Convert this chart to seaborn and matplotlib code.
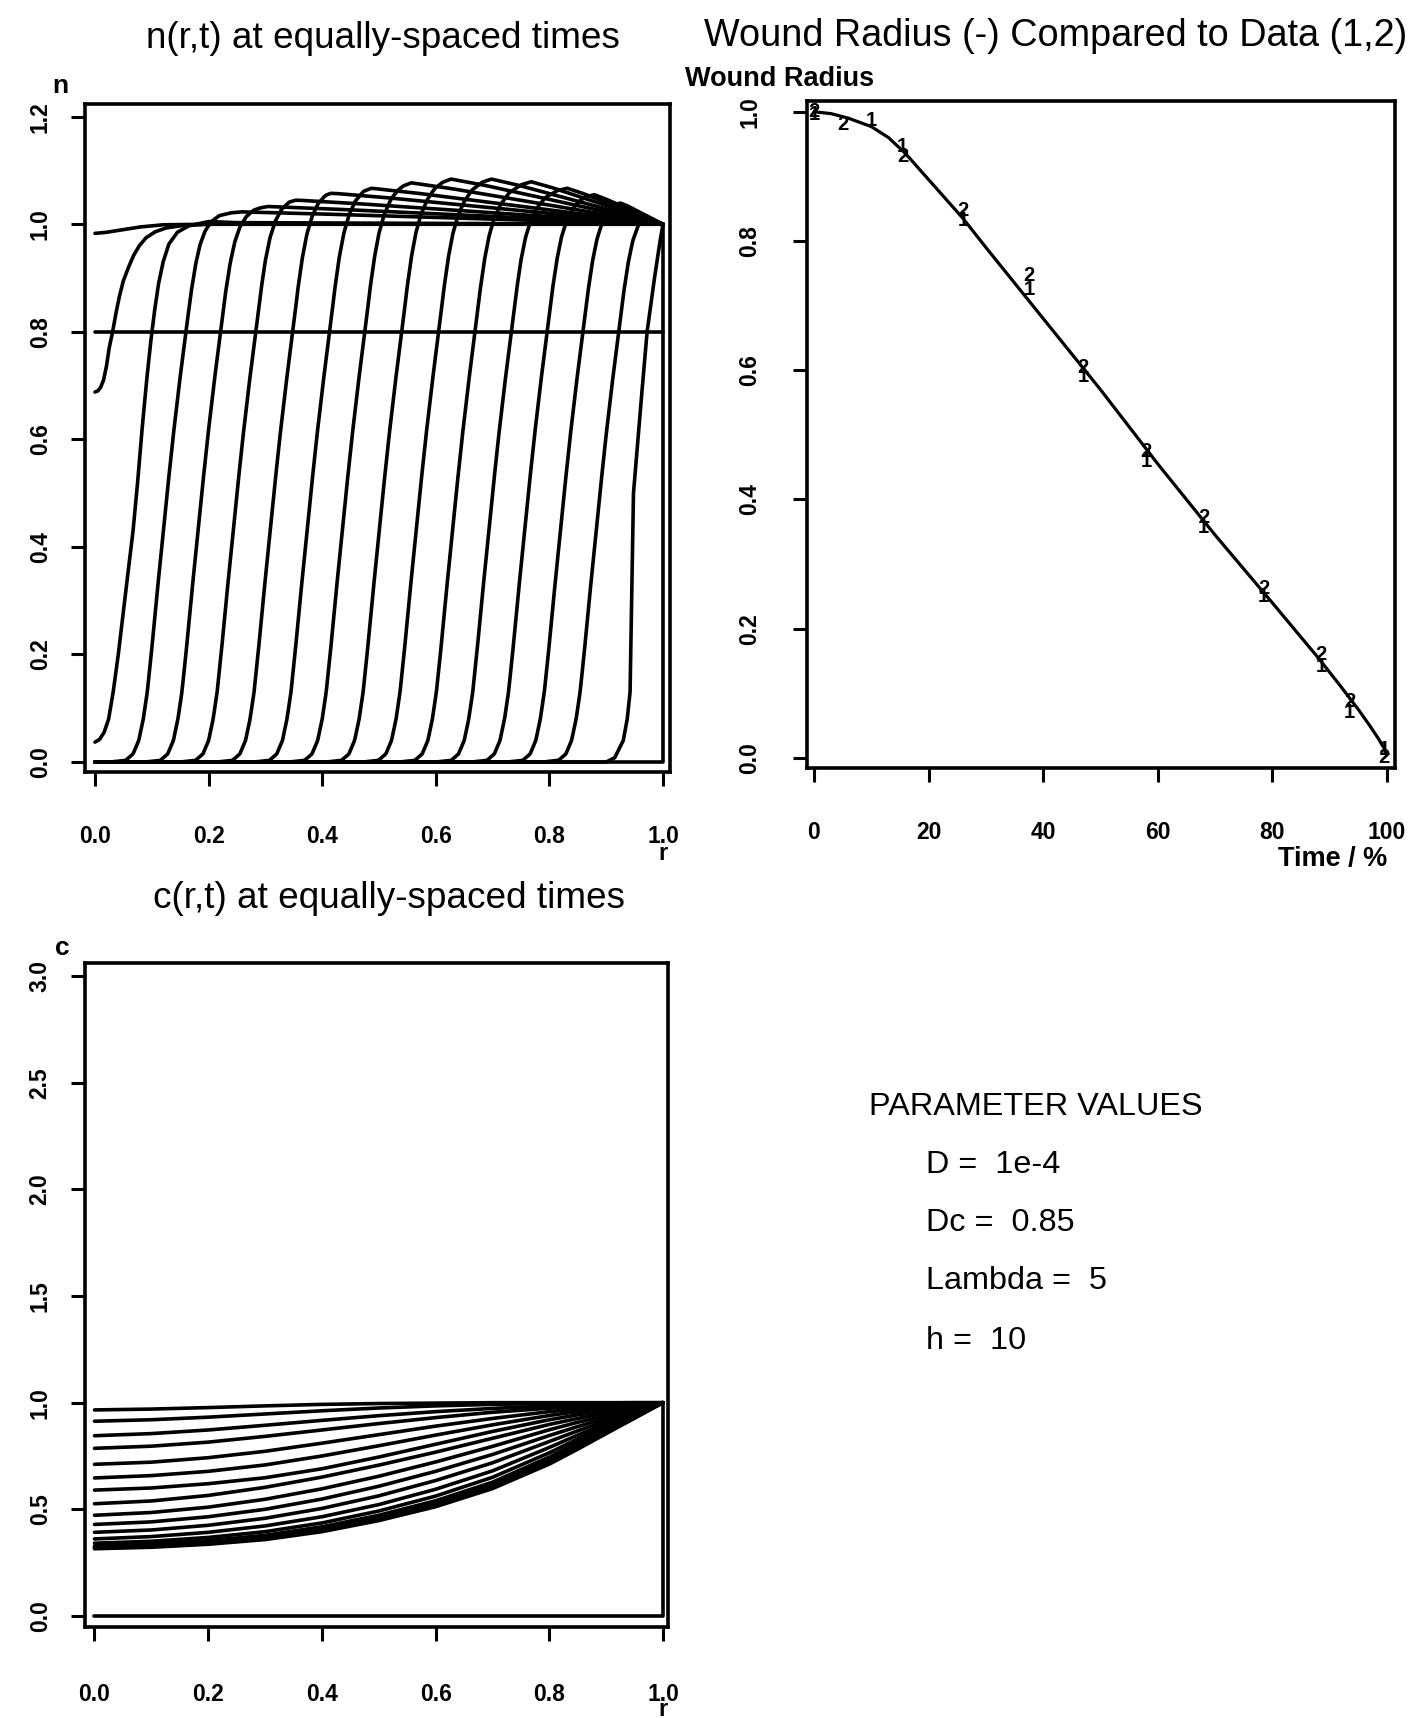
import numpy as np
import pandas as pd
import matplotlib
matplotlib.use("Agg")
import matplotlib.pyplot as plt
import seaborn as sns

# ---------------- data ----------------
# n(r,t): positions (n = 0.5 crossing) of the moving fronts
front_mid = [0.127, 0.188, 0.25, 0.315, 0.38, 0.442, 0.507, 0.572, 0.636, 0.70, 0.763, 0.826, 0.889]
hump_peak_r = [0.258, 0.305, 0.353, 0.415, 0.486, 0.557, 0.627, 0.698, 0.768, 0.831, 0.879, 0.925, 0.962]
hump_peak_n = [1.023, 1.033, 1.045, 1.058, 1.067, 1.077, 1.084, 1.084, 1.079, 1.067, 1.055, 1.04, 1.02]
# front profile (offset from the 0.5 crossing -> n)
front_off = [-0.10, -0.073, -0.06, -0.05, -0.042, -0.035, -0.028, -0.019, -0.0095, 0.0,
             0.01, 0.021, 0.033, 0.042, 0.05, 0.058, 0.067, 0.078, 0.092, 0.11]
front_val = [0.0, 0.003, 0.015, 0.04, 0.08, 0.13, 0.2, 0.3, 0.4, 0.5,
             0.6, 0.7, 0.8, 0.87, 0.92, 0.955, 0.978, 0.992, 0.999, 1.0]
# overshoot hump shape (fraction of rise / fall -> fraction of height)
hump_rise_frac = [0.0, 0.35, 0.6, 0.82, 1.0]
hump_rise_val = [0.0, 0.45, 0.75, 0.93, 1.0]
hump_fall_frac = [0.15, 1.0]
hump_fall_val = [0.87, 0.0]
# individual curves
n_init_r = [0.0, 1.0, 1.0]
n_init = [0.0, 0.0, 1.0]
n_level_r = [0.0, 1.0]
n_level = [0.8, 0.8]
n_first_r = [0.0, 0.90, 0.915, 0.93, 0.937, 0.942, 0.948, 0.963, 0.972, 0.985, 0.995, 1.0]
n_first = [0.0, 0.0, 0.008, 0.04, 0.08, 0.13, 0.5, 0.69, 0.8, 0.9, 0.97, 1.0]
n_late1_r = [0.0, 0.008, 0.016, 0.024, 0.032, 0.041, 0.05, 0.059, 0.067, 0.075, 0.083, 0.091,
             0.098, 0.105, 0.112, 0.12, 0.13, 0.145, 0.165, 0.2, 0.25, 1.0]
n_late1 = [0.037, 0.042, 0.055, 0.08, 0.13, 0.2, 0.28, 0.36, 0.43, 0.52, 0.62, 0.71,
           0.78, 0.84, 0.89, 0.93, 0.963, 0.985, 0.997, 1.005, 1.003, 1.0]
n_late2_r = [0.0, 0.005, 0.01, 0.015, 0.02, 0.025, 0.031, 0.037, 0.043, 0.05, 0.059, 0.068,
             0.078, 0.09, 0.106, 0.125, 0.15, 0.2, 1.0]
n_late2 = [0.688, 0.69, 0.697, 0.71, 0.735, 0.77, 0.8, 0.835, 0.866, 0.895, 0.92, 0.942,
           0.96, 0.975, 0.986, 0.993, 0.997, 1.0, 1.0]
n_late3_r = [0.0, 0.02, 0.05, 0.08, 0.12, 0.2, 1.0]
n_late3 = [0.983, 0.985, 0.99, 0.995, 0.999, 1.0, 1.0]

# c(r,t)
c_r = [0.0, 0.1, 0.2, 0.3, 0.4, 0.5, 0.6, 0.7, 0.8, 0.85, 0.9, 0.95, 1.0]
c_curves = [
    [0.315, 0.322, 0.336, 0.358, 0.395, 0.447, 0.512, 0.597, 0.712, 0.782, 0.855, 0.927, 1.0],
    [0.318, 0.325, 0.339, 0.362, 0.400, 0.452, 0.518, 0.603, 0.720, 0.790, 0.862, 0.930, 1.0],
    [0.322, 0.330, 0.345, 0.368, 0.407, 0.460, 0.527, 0.613, 0.730, 0.800, 0.870, 0.935, 1.0],
    [0.328, 0.337, 0.353, 0.378, 0.418, 0.472, 0.540, 0.627, 0.745, 0.815, 0.880, 0.940, 1.0],
    [0.341, 0.350, 0.368, 0.395, 0.436, 0.492, 0.562, 0.650, 0.765, 0.830, 0.890, 0.945, 1.0],
    [0.361, 0.372, 0.392, 0.422, 0.465, 0.522, 0.594, 0.680, 0.790, 0.848, 0.902, 0.952, 1.0],
    [0.392, 0.403, 0.425, 0.458, 0.504, 0.563, 0.635, 0.718, 0.818, 0.868, 0.915, 0.958, 1.0],
    [0.429, 0.441, 0.465, 0.500, 0.548, 0.608, 0.678, 0.757, 0.846, 0.888, 0.928, 0.965, 1.0],
    [0.472, 0.485, 0.510, 0.547, 0.596, 0.655, 0.722, 0.795, 0.873, 0.908, 0.940, 0.971, 1.0],
    [0.526, 0.539, 0.565, 0.603, 0.651, 0.707, 0.768, 0.833, 0.898, 0.926, 0.952, 0.977, 1.0],
    [0.590, 0.600, 0.620, 0.648, 0.690, 0.745, 0.805, 0.865, 0.920, 0.943, 0.963, 0.982, 1.0],
    [0.647, 0.658, 0.678, 0.708, 0.750, 0.798, 0.848, 0.896, 0.940, 0.958, 0.973, 0.987, 1.0],
    [0.711, 0.721, 0.742, 0.772, 0.810, 0.850, 0.890, 0.926, 0.958, 0.971, 0.982, 0.991, 1.0],
    [0.786, 0.796, 0.815, 0.842, 0.872, 0.902, 0.930, 0.955, 0.974, 0.982, 0.989, 0.995, 1.0],
    [0.845, 0.855, 0.872, 0.894, 0.917, 0.939, 0.958, 0.973, 0.985, 0.990, 0.994, 0.997, 1.0],
    [0.913, 0.920, 0.932, 0.947, 0.962, 0.975, 0.985, 0.992, 0.996, 0.998, 0.999, 1.0, 1.0],
    [0.966, 0.970, 0.977, 0.985, 0.992, 0.996, 0.998, 1.0, 1.0, 1.0, 1.0, 1.0, 1.0],
]
c_init_r = [0.0, 1.0, 1.0]
c_init = [0.0, 0.0, 1.0]

# wound radius
model_t = [0, 3, 6, 10, 13, 16, 20, 26, 30, 40, 50, 60, 70, 80, 88, 92, 95, 97, 98.5, 99.5, 100]
model_r = [1.0, 0.997, 0.99, 0.977, 0.96, 0.935, 0.895, 0.835, 0.79, 0.68, 0.57, 0.455,
           0.345, 0.24, 0.155, 0.11, 0.075, 0.05, 0.03, 0.015, 0.005]
data1_t = [0, 10, 15.5, 26, 37.5, 47, 58, 68, 78.5, 88.5, 93.5, 99.5]
data1_r = [0.995, 0.986, 0.946, 0.832, 0.725, 0.59, 0.459, 0.356, 0.25, 0.141, 0.07, 0.0125]
data2_t = [0, 5, 15.5, 26, 37.5, 47, 58, 68, 78.5, 88.5, 93.5, 99.5]
data2_r = [1.0, 0.981, 0.93, 0.847, 0.746, 0.604, 0.475, 0.372, 0.263, 0.16, 0.087, 0.0]

n_ticks = [0.0, 0.2, 0.4, 0.6, 0.8, 1.0, 1.2]
c_ticks = [0.0, 0.5, 1.0, 1.5, 2.0, 2.5, 3.0]
r_ticks = [0.0, 0.2, 0.4, 0.6, 0.8, 1.0]
t_ticks = [0, 20, 40, 60, 80, 100]
w_ticks = [0.0, 0.2, 0.4, 0.6, 0.8, 1.0]
params = ["D =  1e-4", "Dc =  0.85", "Lambda =  5", "h =  10"]

# ---------------- figure ----------------
sns.set_theme(style="white")
plt.rcParams["font.family"] = ["Liberation Sans", "DejaVu Sans"]
plt.rcParams["text.color"] = "black"
plt.rcParams["xtick.color"] = "black"
plt.rcParams["ytick.color"] = "black"
plt.rcParams["axes.labelcolor"] = "black"

W, H = 1422, 1718
fig = plt.figure(figsize=(W / 100, H / 100), dpi=100)
fig.patch.set_facecolor("white")


def ax_at(left, top, right, bottom):
    return fig.add_axes([left / W, 1 - bottom / H, (right - left) / W, (bottom - top) / H])


def fig_text(x, y, s, **kw):
    fig.text(x / W, 1 - y / H, s, color="black", **kw)


LW = 2.6


def style_axes(ax, xt, xl, yt, yl, xpad, ypad):
    for sp in ax.spines.values():
        sp.set_visible(True)
        sp.set_color("black")
        sp.set_linewidth(LW)
    ax.set_xticks(xt)
    ax.set_xticklabels(xl, fontweight="bold", fontsize=16.5, color="black")
    ax.set_yticks(yt)
    ax.set_yticklabels(yl, fontweight="bold", fontsize=16.5, rotation=90, va="center",
                       color="black")
    ax.tick_params(axis="both", direction="out", length=10, width=2.2, color="black",
                   bottom=True, left=True)
    ax.tick_params(axis="x", pad=xpad)
    ax.tick_params(axis="y", pad=ypad)
    ax.set_xlabel("")
    ax.set_ylabel("")
    ax.grid(False)
    ax.set_facecolor("white")


# ---- n(r,t) ----
r_fine = np.linspace(0.0, 1.0, 801)
rows = []
cid = 0


def add(rr, nn, store):
    global cid
    for a, b in zip(rr, nn):
        store.append({"r": a, "v": b, "curve": cid})
    cid += 1


add(n_init_r, n_init, rows)
add(n_level_r, n_level, rows)
add(n_first_r, n_first, rows)
for m, q, p in zip(front_mid, hump_peak_r, hump_peak_n):
    base = np.interp(r_fine - m, front_off, front_val, left=0.0, right=1.0)
    start = m + 0.035
    rise_x = [start + f * (q - start) for f in hump_rise_frac]
    fall_x = [q + f * (1.0 - q) for f in hump_fall_frac]
    hx = rise_x + fall_x
    hv = [v * (p - 1) for v in hump_rise_val + hump_fall_val]
    hump = np.interp(r_fine, hx, hv, left=0.0, right=0.0)
    vals = base + hump
    vals[-1] = 1.0
    add(r_fine, vals, rows)
add(n_late1_r, n_late1, rows)
add(n_late2_r, n_late2, rows)
add(n_late3_r, n_late3, rows)
df_n = pd.DataFrame(rows)

ax1 = ax_at(85, 104, 670, 772)
sns.lineplot(data=df_n, x="r", y="v", units="curve", estimator=None, sort=False,
             color="black", linewidth=LW, legend=False, ax=ax1)
ax1.set_xlim(-0.0176, 1.0123)
ax1.set_ylim(-0.0186, 1.2236)
style_axes(ax1, r_ticks, [f"{v:.1f}" for v in r_ticks], n_ticks,
           [f"{v:.1f}" for v in n_ticks], xpad=28, ypad=14)
fig_text(383, 39, "n(r,t) at equally-spaced times", ha="center", va="center", fontsize=26.6)
fig_text(60, 86, "n", ha="center", va="center", fontsize=19, fontweight="bold")
fig_text(663, 853, "r", ha="center", va="center", fontsize=17, fontweight="bold")

# ---- wound radius ----
ax2 = ax_at(807, 101, 1395, 768)
df_m = pd.DataFrame({"t": model_t, "R": model_r})
sns.lineplot(data=df_m, x="t", y="R", estimator=None, sort=False, color="black",
             linewidth=2.3, legend=False, ax=ax2)
for t, v in zip(data1_t, data1_r):
    ax2.text(t, v, "1", ha="center", va="center", fontsize=14.5, fontweight="bold",
             color="black")
for t, v in zip(data2_t, data2_r):
    ax2.text(t, v, "2", ha="center", va="center", fontsize=14.5, fontweight="bold",
             color="black")
ax2.set_xlim(-1.22, 101.4)
ax2.set_ylim(-0.0155, 1.0166)
style_axes(ax2, t_ticks, [str(v) for v in t_ticks], w_ticks,
           [f"{v:.1f}" for v in w_ticks], xpad=28.5, ypad=23)
fig_text(1056, 36, "Wound Radius (-) Compared to Data (1,2)", ha="center", va="center",
         fontsize=27.2)
fig_text(685, 79, "Wound Radius", ha="left", va="center", fontsize=19.5, fontweight="bold")
fig_text(1387, 859, "Time / %", ha="right", va="center", fontsize=19.5, fontweight="bold")

# ---- c(r,t) ----
crows = []
add(c_init_r, c_init, crows)
for cv in c_curves:
    add(c_r, cv, crows)
df_c = pd.DataFrame(crows)
ax3 = ax_at(85, 963, 668, 1627)
sns.lineplot(data=df_c, x="r", y="v", units="curve", estimator=None, sort=False,
             color="black", linewidth=LW, legend=False, ax=ax3)
ax3.set_xlim(-0.0167, 1.0088)
ax3.set_ylim(-0.052, 3.062)
style_axes(ax3, r_ticks, [f"{v:.1f}" for v in r_ticks], c_ticks,
           [f"{v:.1f}" for v in c_ticks], xpad=30, ypad=14)
fig_text(389, 899, "c(r,t) at equally-spaced times", ha="center", va="center", fontsize=26.6)
fig_text(62, 948, "c", ha="center", va="center", fontsize=19, fontweight="bold")
fig_text(663, 1709, "r", ha="center", va="center", fontsize=17, fontweight="bold")

# ---- parameter block ----
fig_text(869, 1107, "PARAMETER VALUES", ha="left", va="center", fontsize=23.3)
for s, y in zip(params, [1165, 1223, 1281, 1341]):
    fig_text(926, y, s, ha="left", va="center", fontsize=23.3)

fig.savefig("out.png", dpi=100, facecolor="white")
